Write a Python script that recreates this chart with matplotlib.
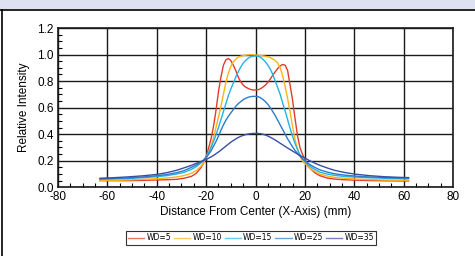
import matplotlib
matplotlib.use("Agg")
import matplotlib.pyplot as plt
from matplotlib.patches import Rectangle
from matplotlib.lines import Line2D

plt.rcParams["font.family"] = ["Liberation Sans", "DejaVu Sans"]
plt.rcParams["axes.unicode_minus"] = False

# distance from center (mm)
x = [-63, -58, -52, -46, -40, -36, -32, -29, -26, -24,
     -22, -21, -20, -19, -18, -17, -16, -15, -14, -13, -12, -11,
     -10, -9, -8, -7, -6, -5, -4, -3, -2, -1, 0,
     1, 2, 3, 4, 5, 6, 7, 8, 9, 10,
     11, 12, 13, 14, 15, 16, 17, 18, 19, 20, 21, 22,
     24, 26, 29, 32, 36, 40, 46, 52, 58, 62]

wd5 = [0.050, 0.050, 0.050, 0.052, 0.055, 0.057, 0.060, 0.068, 0.082, 0.105,
       0.150, 0.185, 0.230, 0.295, 0.365, 0.460, 0.580, 0.720, 0.830, 0.920, 0.960, 0.970,
       0.955, 0.920, 0.880, 0.830, 0.795, 0.770, 0.755, 0.745, 0.737, 0.733, 0.733,
       0.735, 0.742, 0.755, 0.770, 0.790, 0.815, 0.845, 0.870, 0.895, 0.915,
       0.925, 0.920, 0.880, 0.770, 0.660, 0.520, 0.390, 0.300, 0.250, 0.210, 0.170, 0.145,
       0.110, 0.088, 0.070, 0.062, 0.057, 0.054, 0.051, 0.049, 0.048, 0.048]

wd10 = [0.052, 0.052, 0.055, 0.060, 0.065, 0.070, 0.078, 0.088, 0.105, 0.125,
        0.160, 0.185, 0.220, 0.260, 0.310, 0.370, 0.450, 0.530, 0.610, 0.700, 0.790, 0.860,
        0.910, 0.945, 0.965, 0.980, 0.988, 0.992, 0.995, 0.997, 0.998, 0.998, 0.997,
        0.995, 0.993, 0.990, 0.987, 0.983, 0.977, 0.967, 0.955, 0.935, 0.900,
        0.840, 0.760, 0.670, 0.570, 0.460, 0.360, 0.290, 0.235, 0.200, 0.180, 0.160, 0.145,
        0.120, 0.100, 0.085, 0.075, 0.068, 0.063, 0.058, 0.055, 0.053, 0.053]

wd15 = [0.060, 0.062, 0.066, 0.072, 0.080, 0.088, 0.100, 0.112, 0.135, 0.155,
        0.185, 0.205, 0.230, 0.260, 0.300, 0.345, 0.395, 0.450, 0.510, 0.570, 0.630, 0.690,
        0.740, 0.785, 0.830, 0.870, 0.905, 0.935, 0.955, 0.972, 0.983, 0.988, 0.990,
        0.987, 0.980, 0.965, 0.945, 0.920, 0.890, 0.850, 0.800, 0.750, 0.700,
        0.635, 0.575, 0.510, 0.445, 0.385, 0.330, 0.285, 0.245, 0.215, 0.195, 0.175, 0.160,
        0.135, 0.115, 0.100, 0.090, 0.082, 0.077, 0.072, 0.068, 0.065, 0.064]

wd25 = [0.065, 0.067, 0.070, 0.077, 0.087, 0.096, 0.110, 0.125, 0.150, 0.168,
        0.190, 0.205, 0.225, 0.248, 0.275, 0.310, 0.345, 0.385, 0.430, 0.470, 0.505, 0.535,
        0.560, 0.585, 0.610, 0.630, 0.645, 0.660, 0.670, 0.678, 0.683, 0.685, 0.685,
        0.683, 0.675, 0.662, 0.645, 0.625, 0.600, 0.570, 0.540, 0.505, 0.470,
        0.435, 0.400, 0.365, 0.335, 0.305, 0.278, 0.255, 0.235, 0.215, 0.200, 0.185, 0.172,
        0.150, 0.132, 0.115, 0.102, 0.092, 0.085, 0.078, 0.074, 0.071, 0.070]

wd35 = [0.068, 0.072, 0.078, 0.086, 0.097, 0.110, 0.128, 0.146, 0.165, 0.180,
        0.195, 0.202, 0.210, 0.219, 0.229, 0.240, 0.253, 0.266, 0.280, 0.295, 0.310, 0.325,
        0.340, 0.352, 0.364, 0.375, 0.384, 0.391, 0.397, 0.401, 0.404, 0.406, 0.406,
        0.406, 0.404, 0.400, 0.394, 0.386, 0.377, 0.367, 0.356, 0.344, 0.332,
        0.320, 0.308, 0.296, 0.285, 0.273, 0.262, 0.251, 0.240, 0.230, 0.220, 0.210, 0.200,
        0.182, 0.166, 0.146, 0.128, 0.112, 0.100, 0.088, 0.080, 0.075, 0.073]

series = [wd5, wd10, wd15, wd25, wd35]
labels = ["WD=5", "WD=10", "WD=15", "WD=25", "WD=35"]
colors = ["#e23b2e", "#fbb417", "#22b5e3", "#2b7ccb", "#3b4ea6"]

fig = plt.figure(figsize=(4.75, 2.56), dpi=100)
fig.patch.set_facecolor("white")

# header strip and frame lines
fig.patches.append(Rectangle((0, 1 - 9 / 256), 1, 9 / 256, transform=fig.transFigure,
                             facecolor="#dde1f1", edgecolor="none", zorder=0))
fig.lines.append(Line2D([0, 1], [1 - 9.5 / 256] * 2, transform=fig.transFigure,
                        color="black", lw=1.2))
fig.lines.append(Line2D([2 / 475] * 2, [0, 1 - 9.5 / 256], transform=fig.transFigure,
                        color="black", lw=1.2))

ax = fig.add_axes([58 / 475, 1 - 187.3 / 256, 395 / 475, 159.3 / 256])
for ys, lab, c in zip(series, labels, colors):
    ax.plot(x, ys, color=c, lw=1.0, label=lab)

ax.set_xlim(-80, 80)
ax.set_ylim(0, 1.2)
ax.set_xticks(range(-80, 81, 20))
ax.set_yticks([0, 0.2, 0.4, 0.6, 0.8, 1.0, 1.2])
ax.set_yticklabels(["0.0", "0.2", "0.4", "0.6", "0.8", "1.0", "1.2"])
ax.set_xticks(range(-80, 81, 5), minor=True)
ax.set_yticks([i * 0.05 for i in range(25)], minor=True)
ax.grid(True, which="major", color="#1a1a1a", lw=1.0)
ax.set_axisbelow(True)
ax.tick_params(which="both", direction="in", labelsize=8.5, pad=3,
               top=False, right=False, color="black")
ax.tick_params(which="major", length=0)
ax.tick_params(which="minor", length=3, width=0.8)
for s in ax.spines.values():
    s.set_color("#1a1a1a")
    s.set_linewidth(1.2)

ax.set_xlabel("Distance From Center (X-Axis) (mm)", fontsize=8.5, labelpad=2)
ax.set_ylabel("Relative Intensity", fontsize=8.5, labelpad=5)

leg = fig.legend(loc="center", bbox_to_anchor=(251 / 475, 1 - 238 / 256), ncol=5,
                 prop={"family": ["Liberation Sans Narrow", "DejaVu Sans"], "size": 5.5},
                 frameon=True, fancybox=False, handlelength=2.1, handletextpad=0.3,
                 columnspacing=0.4, borderpad=0.3, borderaxespad=0)
leg.get_frame().set_edgecolor("black")
leg.get_frame().set_linewidth(0.8)
for h in leg.get_lines():
    h.set_alpha(0.7)

fig.savefig("out.png", dpi=100)
